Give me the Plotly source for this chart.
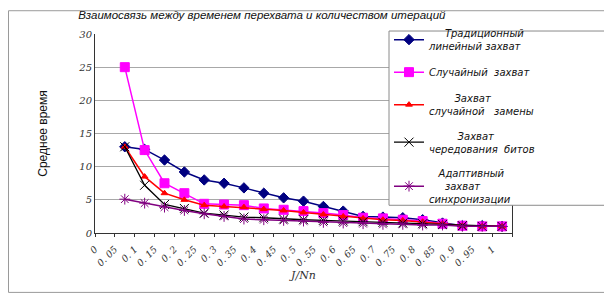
import plotly.graph_objects as go

categories = ["0", "0. 05", "0. 1", "0. 15", "0. 2", "0. 25", "0. 3", "0. 35", "0. 4", "0. 45",
              "0. 5", "0. 55", "0. 6", "0. 65", "0. 7", "0. 75", "0. 8", "0. 85", "0. 9", "0. 95", "1"]
data_x = categories[1:]

traditional = [13.0, 12.6, 11.0, 9.2, 8.0, 7.5, 6.8, 6.0, 5.3, 4.8, 4.0, 3.3, 2.5, 2.4, 2.3, 2.0, 1.5, 1.1, 1.1, 1.0]
random_cap = [25.0, 12.5, 7.5, 6.0, 4.4, 4.3, 4.2, 3.7, 3.5, 3.3, 3.0, 2.7, 2.3, 2.2, 2.0, 1.8, 1.4, 1.1, 1.0, 1.0]
random_repl = [13.0, 8.5, 6.0, 5.0, 4.2, 4.0, 3.9, 3.6, 3.4, 3.1, 2.8, 2.5, 2.2, 2.0, 1.9, 1.7, 1.4, 1.1, 1.0, 1.0]
bit_interleave = [13.0, 7.2, 4.3, 3.7, 3.0, 2.7, 2.4, 2.3, 2.1, 2.0, 1.9, 1.8, 1.7, 1.6, 1.5, 1.4, 1.3, 1.1, 1.0, 1.0]
adaptive = [5.1, 4.5, 3.9, 3.4, 2.9, 2.5, 2.1, 2.0, 1.9, 1.8, 1.6, 1.5, 1.4, 1.3, 1.3, 1.2, 1.2, 1.0, 1.0, 1.0]

NB = "\u00a0"
names = [
    NB * 5 + "Традиционный<br>линейный захват",
    "Случайный" + NB * 2 + "захват",
    NB * 8 + "Захват<br>случайной" + NB * 3 + "замены",
    NB * 9 + "Захват<br>чередования" + NB * 2 + "битов",
    NB * 3 + "Адаптивный<br>" + NB * 5 + "захват<br>синхронизации",
]

# The page body has an 8px default margin, so the layout is shifted up/left by 8px.
OFF = 8
L, R, T, B = 95 - OFF, 612 - (512 - OFF), 32 - OFF, 296 - (233 - OFF)
PW, PH = 417, 201


def px_x(page_x):
    return (page_x - OFF - L) / PW


def px_y(page_y):
    return (T + PH - (page_y - OFF)) / PH


fig = go.Figure()
styles = [
    dict(color="#000080", symbol="diamond", size=8, lw=1.5),
    dict(color="#FF00FF", symbol="square", size=9, lw=1.5),
    dict(color="#FF0000", symbol="triangle-up", size=6, lw=1.5),
    dict(color="#000000", symbol="x-thin-open", size=9, lw=1.3),
    dict(color="#800080", symbol="asterisk-open", size=9, lw=1.5),
]
series = [traditional, random_cap, random_repl, bit_interleave, adaptive]
for i, (ys, st, nm) in enumerate(zip(series, styles, names)):
    fig.add_trace(go.Scatter(
        x=data_x, y=ys, name=nm, mode="lines+markers", legendgroup=str(i),
        line=dict(color=st["color"], width=st["lw"]),
        marker=dict(symbol=st["symbol"], size=st["size"], color=st["color"],
                    line=dict(color=st["color"], width=1)),
    ))

fig.update_layout(
    width=612, height=296,
    margin=dict(l=L, r=R, t=T, b=B),
    paper_bgcolor="white", plot_bgcolor="white",
    showlegend=True,
    title=dict(text="Взаимосвязь между временем перехвата и количеством итераций",
               font=dict(family="Liberation Sans", size=11.5, color="#111", style="italic"),
               x=0.40, xref="paper", xanchor="center", y=1 - (15 - OFF) / 296, yanchor="middle"),
    legend=dict(x=px_x(389), y=px_y(18), xanchor="left", yanchor="top",
                bgcolor="rgba(0,0,0,0)", borderwidth=0,
                font=dict(family="DejaVu Sans", size=10, color="#111", style="italic"),
                tracegroupgap=8.5, traceorder="grouped", maxheight=400, valign="middle"),
    xaxis=dict(type="category", categoryorder="array", categoryarray=categories,
               range=[-0.5, 20.5], tickangle=-45, tickson="boundaries",
               ticks="outside", ticklen=3, tickcolor="#333", ticklabelshift=-10,
               ticklabelstandoff=6,
               showline=True, linecolor="#333", linewidth=1, showgrid=False,
               tickfont=dict(family="DejaVu Serif", size=9.5, color="#333", style="italic"),
               title=dict(text="J/Nn", standoff=3,
                          font=dict(family="DejaVu Serif", size=11, color="#333", style="italic")),
               automargin=False),
    yaxis=dict(range=[0, 30], dtick=5, showgrid=True, gridcolor="#a8a8a8", gridwidth=1,
               showline=True, linecolor="#333", linewidth=1, mirror=True, ticks="",
               zeroline=False,
               tickfont=dict(family="DejaVu Serif", size=10, color="#333", style="italic"),
               title=dict(text="Среднее время", standoff=28,
                          font=dict(family="Liberation Sans", size=12, color="#111")),
               automargin=False),
)

# outer chart border
fig.add_shape(type="rect", xref="paper", yref="paper",
              x0=px_x(8.5), x1=px_x(607), y0=px_y(293), y1=px_y(8.5),
              line=dict(color="#9a9a9a", width=1), fillcolor="rgba(0,0,0,0)", layer="below")
# legend frame
fig.add_shape(type="rect", xref="paper", yref="paper",
              x0=px_x(389), x1=px_x(606), y0=px_y(205), y1=px_y(29),
              line=dict(color="#8a8a8a", width=1), fillcolor="white", layer="above")

fig.write_html("out.html")
